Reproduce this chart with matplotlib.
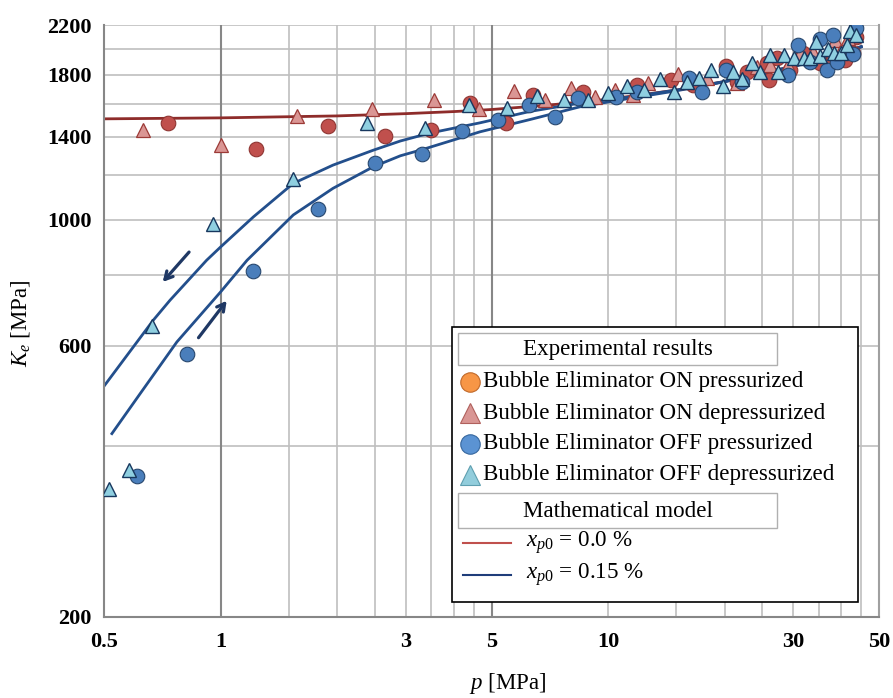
import matplotlib
matplotlib.use("Agg")
import matplotlib.pyplot as plt
from matplotlib.patches import Rectangle
from matplotlib.lines import Line2D

# ---- data (p in MPa, K_e in MPa) ----
on_press_p = [0.73, 1.235, 1.89, 2.66, 3.49, 4.4, 5.45, 6.4, 8.6, 11.9, 14.5, 16.6,
              20.1, 21.5, 22.8, 25.7, 26.0, 27.3, 29.5, 31.8, 35.2, 38.1, 40.9, 42.9, 43.6]
on_press_k = [1477, 1330, 1464, 1403, 1437, 1603, 1477, 1659, 1676, 1722, 1761, 1725,
              1860, 1747, 1818, 1885, 1761, 1924, 1832, 1963, 1885, 1908, 1908, 1963, 2095]

on_depr_p = [0.632, 1.0, 1.573, 2.46, 3.55, 4.63, 5.72, 6.87, 8.03, 9.25, 10.4, 11.6,
             12.7, 15.1, 16.0, 18.0, 21.5, 24.2, 26.2, 29.2, 31.3, 33.8, 38.5, 39.7, 41.6, 43.4]
on_depr_k = [1437, 1352, 1521, 1563, 1623, 1568, 1685, 1623, 1706, 1643, 1692, 1659,
             1739, 1803, 1743, 1775, 1739, 1854, 1869, 1869, 1963, 1971, 2070, 1971, 2086, 2129]

off_press_p = [0.608, 0.821, 1.215, 1.788, 2.50, 3.30, 4.19, 5.21, 6.25, 7.3, 8.35, 10.5,
               11.9, 16.2, 17.5, 20.1, 22.1, 29.2, 30.9, 33.2, 35.2, 36.7, 38.0, 39.0, 42.9, 43.6]
off_press_k = [354, 580, 812, 1043, 1258, 1305, 1429, 1496, 1590, 1515, 1634, 1646,
               1679, 1775, 1679, 1832, 1747, 1796, 2028, 1892, 2078, 1832, 2112, 1892, 1955, 2170]

off_depr_p = [0.516, 0.58, 0.667, 0.958, 1.54, 2.384, 3.37, 4.38, 5.48, 6.57, 7.7, 8.85,
              9.97, 11.2, 12.4, 13.6, 14.8, 16.0, 17.2, 18.4, 19.8, 21.0, 22.2, 23.5, 24.7,
              26.1, 27.4, 28.5, 30.1, 32.0, 33.2, 34.3, 35.3, 36.9, 38.2, 39.8, 41.4, 42.2, 43.7]
off_depr_k = [336, 362, 650, 982, 1178, 1477, 1447, 1594, 1570, 1650, 1623, 1623,
              1668, 1719, 1692, 1768, 1679, 1747, 1775, 1832, 1719, 1818, 1768, 1885, 1818,
              1948, 1818, 1950, 1924, 1924, 1924, 2053, 1942, 1997, 1965, 1965, 2028, 2146, 2112]

# mathematical model curves
model0_p = [0.5, 1, 2, 3, 4, 5, 7, 10, 15, 20, 30, 40, 45]
model0_k = [1504, 1510, 1522, 1536, 1549, 1562, 1590, 1628, 1690, 1750, 1860, 1965, 2015]

model15_down_p = [0.5, 0.67, 0.74, 0.92, 1.0, 1.215, 1.54, 1.95, 2.48, 2.91, 3.47, 4.67,
                  6.29, 8.45, 10.7, 15, 20, 30, 40, 45]
model15_down_k = [509, 665, 721, 848, 895, 1011, 1158, 1247, 1325, 1375, 1420, 1480,
                  1550, 1603, 1634, 1690, 1750, 1860, 1965, 2015]

model15_up_p = [0.524, 0.62, 0.771, 1.0, 1.17, 1.54, 1.95, 2.48, 2.91, 3.34, 4.67, 6.29,
                8.45, 10.7, 15, 20, 30, 40, 45]
model15_up_k = [420, 494, 609, 746, 848, 1019, 1135, 1239, 1295, 1330, 1427, 1500,
                1579, 1623, 1685, 1748, 1858, 1963, 2013]

# hand-drawn direction arrows (tail, head)
arrow_down = ((0.838, 884), (0.701, 770))
arrow_up = ((0.868, 614), (1.047, 726))

x_ticks = [0.5, 1, 3, 5, 10, 30, 50]
y_ticks = [200, 600, 1000, 1400, 1800, 2200]
x_grid = [1.5, 2, 2.5, 3, 3.5, 4, 4.5, 10, 15, 20, 25, 30, 35, 40, 45]
x_grid_dark = [1, 5]
y_grid = list(range(200, 2201, 200))

W, H = 893, 698
SERIF = "Liberation Serif"
plt.rcParams["font.family"] = SERIF
plt.rcParams["mathtext.fontset"] = "custom"
plt.rcParams["mathtext.rm"] = SERIF
plt.rcParams["mathtext.it"] = SERIF + ":italic"

LEG_FS = 16.6


def px(x, y):
    return x / W, 1 - y / H


fig = plt.figure(figsize=(W / 100, H / 100), dpi=100)
ax = fig.add_axes([104 / W, 1 - 616.7 / H, (879 - 104) / W, (616.7 - 25) / H])
ax.set_xscale("log")
ax.set_yscale("log")
ax.set_xlim(0.5, 50)
ax.set_ylim(200, 2200)

for g in x_grid:
    ax.axvline(g, color="#bfbfbf", lw=1.2, zorder=0)
for g in x_grid_dark:
    ax.axvline(g, color="#878787", lw=1.5, zorder=0.5)
for g in y_grid:
    ax.axhline(g, color="#bfbfbf", lw=1.2, zorder=0)

ax.set_xticks(x_ticks)
ax.set_xticklabels([str(t) for t in x_ticks])
ax.set_xticks([0.5, 5, 50], minor=True)
ax.set_xticklabels([], minor=True)
ax.set_yticks(y_ticks)
ax.set_yticklabels([str(t) for t in y_ticks])
ax.yaxis.set_minor_locator(matplotlib.ticker.NullLocator())
ax.tick_params(axis="x", which="major", length=0, pad=11, labelsize=16)
ax.tick_params(axis="x", which="minor", length=6, width=1.5, color="#878787", direction="out")
ax.tick_params(axis="y", length=0, pad=9, labelsize=16)
for lab in ax.get_xticklabels() + ax.get_yticklabels():
    lab.set_fontweight("bold")

for side in ("left", "bottom"):
    ax.spines[side].set_color("#878787")
    ax.spines[side].set_linewidth(1.5)
ax.spines["right"].set_color("#a0a0a0")
ax.spines["right"].set_linewidth(1.5)
ax.spines["top"].set_visible(False)

# model lines (drawn beneath markers)
ax.plot(model0_p, model0_k, color="#8e2c2a", lw=2.0, zorder=2)
ax.plot(model15_down_p, model15_down_k, color="#234f8c", lw=2.0, zorder=2)
ax.plot(model15_up_p, model15_up_k, color="#234f8c", lw=2.0, zorder=2)

# experimental points
ax.plot(on_press_p, on_press_k, "o", ms=10.5, mfc="#c0504d", mec="#8f3532", mew=0.8, zorder=3)
ax.plot(on_depr_p, on_depr_k, "^", ms=10.5, mfc="#da9694", mec="#9c3a37", mew=0.9, zorder=3)
ax.plot(off_press_p, off_press_k, "o", ms=10.5, mfc="#4a7ebb", mec="#27476e", mew=0.8, zorder=3)
ax.plot(off_depr_p, off_depr_k, "^", ms=10.5, mfc="#8fcfe0", mec="#17375e", mew=1.0, zorder=3)

for tail, head in (arrow_down, arrow_up):
    ax.annotate("", xy=head, xytext=tail,
                arrowprops=dict(arrowstyle="->,head_length=0.55,head_width=0.3",
                                color="#1f3864", lw=2.3), zorder=4)

# axis titles
fig.text(*px(508, 684), r"$p$ [MPa]", ha="center", va="center", fontsize=16.5)
fig.text(*px(21, 323), r"$K_e$ [MPa]", ha="center", va="center", fontsize=16.5, rotation=90)

# ---- legend, laid out like the original ----
tf = fig.transFigure


def box(x0, y0, x1, y1, ec, lw, fc="none", z=10):
    fx0, fy1 = px(x0, y1)
    fx1, fy0 = px(x1, y0)
    fig.patches.append(Rectangle((fx0, fy1), fx1 - fx0, fy0 - fy1, transform=tf,
                                 facecolor=fc, edgecolor=ec, lw=lw, zorder=z))


box(452, 327, 858, 602, "black", 1.2, fc="white", z=10)
box(458, 333, 777, 365, "#b0b0b0", 1.0, z=11)
box(458, 493, 777, 528, "#b0b0b0", 1.0, z=11)
fig.text(*px(617.5, 350), "Experimental results", ha="center", va="center", fontsize=LEG_FS, zorder=12)
fig.text(*px(617.5, 511.5), "Mathematical model", ha="center", va="center", fontsize=LEG_FS, zorder=12)

entries = [
    ("o", "#f79646", "#c0692a", "Bubble Eliminator ON pressurized", 382),
    ("^", "#d99694", "#b0605c", "Bubble Eliminator ON depressurized", 413),
    ("o", "#5b93d3", "#36679e", "Bubble Eliminator OFF pressurized", 444),
    ("^", "#92cddc", "#5f9fb0", "Bubble Eliminator OFF depressurized", 474.5),
]
for mk, fc, ec, label, yy in entries:
    fx, fy = px(470, yy)
    fig.add_artist(Line2D([fx], [fy], marker=mk, ms=14, mfc=fc, mec=ec, mew=0.8,
                          transform=tf, zorder=12))
    fig.text(*px(483, yy), label, ha="left", va="center", fontsize=LEG_FS, zorder=12)

for color, label, yy in (("#c0504d", r"$x_{p0}$ = 0.0 %", 543),
                         ("#1f3d7a", r"$x_{p0}$ = 0.15 %", 575)):
    fx0, fy = px(463, yy)
    fx1, _ = px(511, yy)
    fig.add_artist(Line2D([fx0, fx1], [fy, fy], color=color, lw=1.5, transform=tf, zorder=12))
    fig.text(*px(526, yy), label, ha="left", va="center", fontsize=LEG_FS, zorder=12)

fig.savefig("out.png", dpi=100)
